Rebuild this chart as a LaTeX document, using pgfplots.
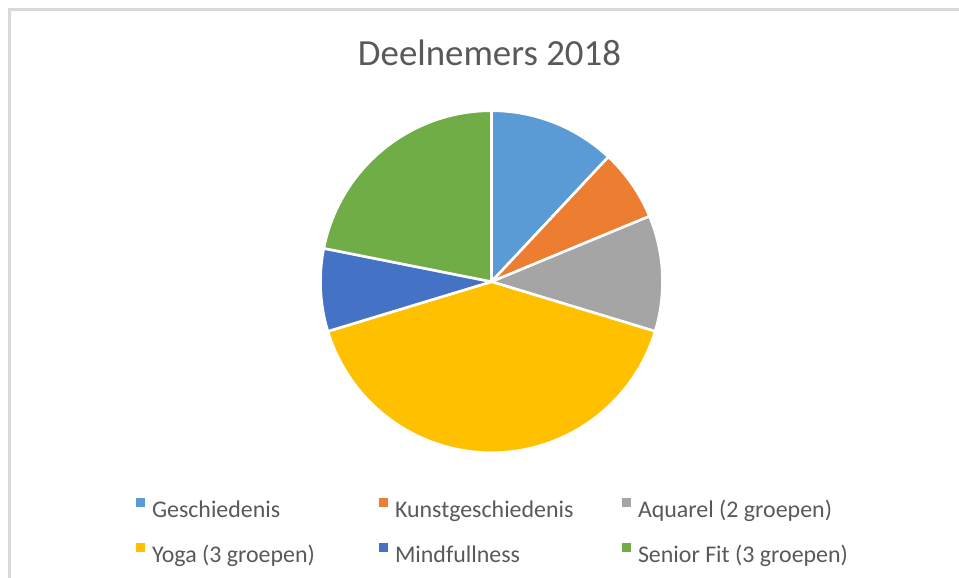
\documentclass[border=0pt]{standalone}
\usepackage{pgfplots}
\pgfplotsset{compat=1.18}
\usepackage{pgfplotstable}
\usepackage{fontspec}
\setmainfont{Carlito}
\definecolor{c0}{HTML}{5B9BD5}
\definecolor{c1}{HTML}{ED7D31}
\definecolor{c2}{HTML}{A5A5A5}
\definecolor{c3}{HTML}{FFC000}
\definecolor{c4}{HTML}{4472C4}
\definecolor{c5}{HTML}{70AD47}
\definecolor{txt}{HTML}{595959}
\definecolor{frame}{HTML}{D9D9D9}

\pgfplotstableread{
idx value
0 23
1 13
2 21
3 78
4 15
5 42
}\piedata

\begin{document}
\begin{tikzpicture}
% totals and angles
\def\total{0}
\pgfplotsforeachungrouped \i in {0,...,5}{%
  \pgfplotstablegetelem{\i}{value}\of\piedata
  \pgfmathsetmacro\total{\total+\pgfplotsretval}%
}
\def\cum{0}
\pgfplotsforeachungrouped \i in {0,...,5}{%
  \pgfplotstablegetelem{\i}{value}\of\piedata
  \pgfmathsetmacro\sa{90-\cum/\total*360}%
  \pgfmathsetmacro\cum{\cum+\pgfplotsretval}%
  \pgfmathsetmacro\ea{90-\cum/\total*360}%
  \expandafter\xdef\csname sa\i\endcsname{\sa}%
  \expandafter\xdef\csname ea\i\endcsname{\ea}%
}
\useasboundingbox (-491.5bp,-296.3bp) rectangle (467.5bp,281.7bp);
\fill[white] (-491.5bp,-296.3bp) rectangle (467.5bp,281.7bp);
\draw[frame, line width=2.5bp] (-481.8bp,-296.3bp) -- (-481.8bp,272.4bp) -- (467.5bp,272.4bp);
\node[anchor=base, text=txt, font=\fontsize{37}{44}\selectfont] at (-2bp,216.5bp) {Deelnemers 2018};
\begin{axis}[
  hide axis,
  x=171bp, y=171bp,
  xmin=-1, xmax=1, ymin=-1, ymax=1,
  at={(0,0)}, anchor=center,
  clip=false,
  legend columns=3,
  legend image code/.code={%
    \fill[#1, draw=none] (0bp,1.3bp) rectangle (9bp,10.3bp);
    \path (16bp,0bp);
  },
  legend style={
    at={(axis cs:-2.080,-1.262)}, anchor=north west,
    draw=none, fill=none, inner sep=0pt, row sep=24bp,
    font=\fontsize{24}{28}\selectfont, text=txt,
    nodes={inner sep=0pt},
  },
  legend cell align=left,
]
\pgfplotsinvokeforeach{0,...,5}{%
  \fill[c#1, draw=white, line width=2.6bp, line join=round]
    (axis cs:0,0) -- ++(\csname sa#1\endcsname:171bp)
    arc[start angle=\csname sa#1\endcsname, end angle=\csname ea#1\endcsname, radius=171bp] -- cycle;
}
\addlegendimage{fill=c0, draw=none}
\addlegendentry{\makebox[227bp][l]{\strut Geschiedenis}}
\addlegendimage{fill=c1, draw=none}
\addlegendentry{\makebox[227bp][l]{\strut Kunstgeschiedenis}}
\addlegendimage{fill=c2, draw=none}
\addlegendentry{\makebox[227bp][l]{\strut Aquarel (2 groepen)}}
\addlegendimage{fill=c3, draw=none}
\addlegendentry{\makebox[227bp][l]{\strut Yoga (3 groepen)}}
\addlegendimage{fill=c4, draw=none}
\addlegendentry{\makebox[227bp][l]{\strut Mindfullness}}
\addlegendimage{fill=c5, draw=none}
\addlegendentry{\makebox[227bp][l]{\strut Senior Fit (3 groepen)}}
\end{axis}
\end{tikzpicture}
\end{document}
